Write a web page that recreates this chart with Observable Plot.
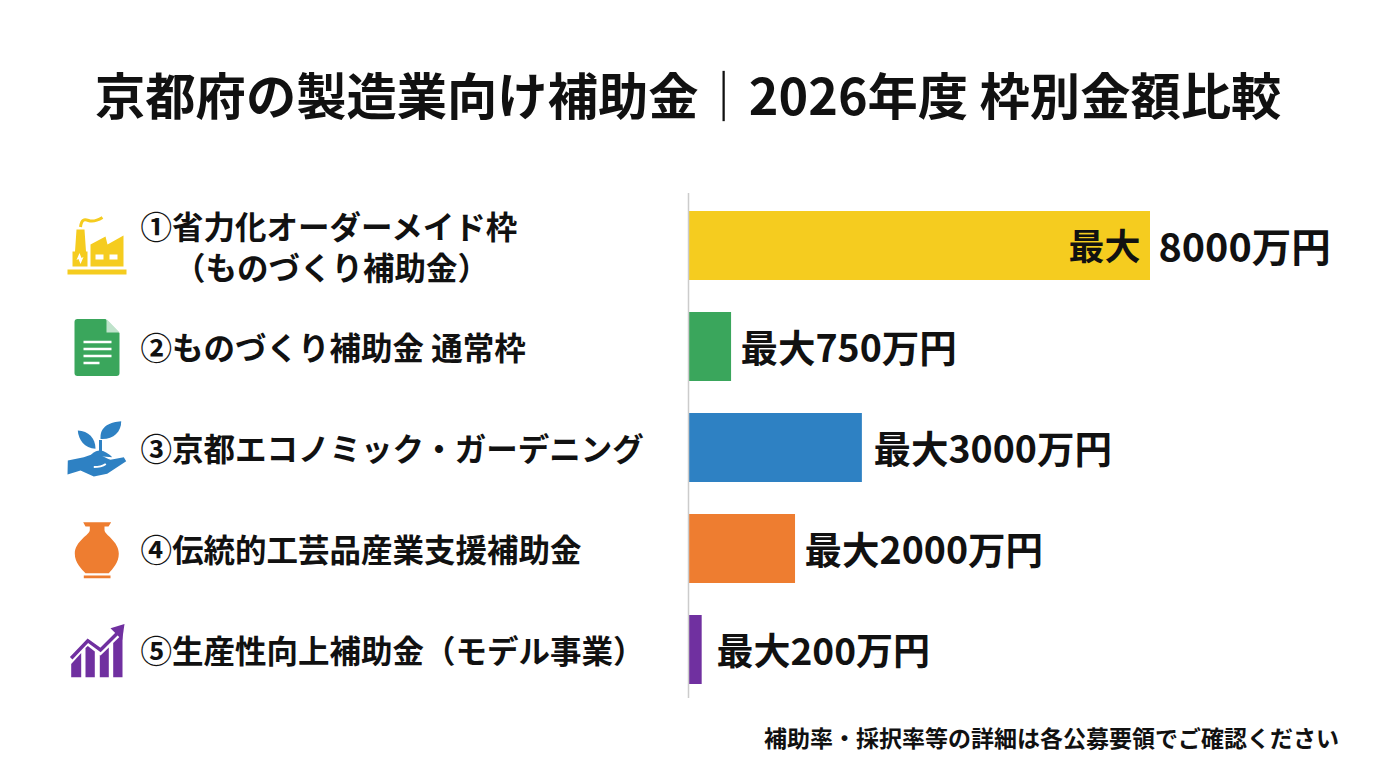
<!doctype html>
<html lang="ja"><head><meta charset="utf-8">
<script src="https://cdn.jsdelivr.net/npm/d3@7"></script>
<script src="https://cdn.jsdelivr.net/npm/@observablehq/plot@0.6"></script>
<style>
html,body{margin:0;padding:0;background:#fff;width:1376px;height:768px;overflow:hidden}
body{font-family:"Noto Sans CJK JP",sans-serif;color:#111}
#title{height:160px;box-sizing:border-box;padding-top:58px;padding-left:95px;font-size:50.3px;font-weight:700;line-height:70px;white-space:nowrap}
#chart svg{display:block}
#note{position:absolute;top:721px;right:37px;font-size:23px;font-weight:700;line-height:32px;white-space:nowrap}
</style></head><body>
<div id="title">京都府の製造業向け補助金｜2026年度 枠別金額比較</div>
<div id="chart"></div>
<div id="note">補助率・採択率等の詳細は各公募要領でご確認ください</div>
<script>
const names = ["①省力化オーダーメイド枠\n\u3000\u200a（ものづくり補助金）","②ものづくり補助金 通常枠","③京都エコノミック・ガーデニング","④伝統的工芸品産業支援補助金","⑤生産性向上補助金（モデル事業）"];
const drawnLength = [8000,730,3000,1840,220];
const labelStart = [8139,885,3193,1996,469];
const valueLabels = ["8000万円","最大750万円","最大3000万円","最大2000万円","最大200万円"];
const valueSizes = [39.5,37.5,37.5,37.5,37];
const colors = ["#f5cc1f","#3aa65c","#2e81c3","#ee7d30","#7030a0"];
const icons = [
`<g fill="#f5cc1f"><path d="M5 57.5h59v5H5z"/><path d="M14 17.5h8l1.5 22H25v15H10v-15h2.5z"/><path d="M28 32.5l15-8 2 8 16-9v31H28z"/></g>
 <path d="M18 15c1-8 4-8 8-6.5s9 0 14-3" fill="none" stroke="#f5cc1f" stroke-width="3"/>
 <path d="M33 42.5h8v5h-8zM47 42.5h8v5h-8z" fill="#fff"/><path d="M17 41l2 5 2-1-3 7-2-5-2 1z" fill="#fff"/>`,
`<path d="M15 6h28l14 14v40a3 3 0 0 1-3 3H15a3 3 0 0 1-3-3V9a3 3 0 0 1 3-3z" fill="#3aa65c"/><path d="M44 6l13 13.500H44z" fill="#bfe3cb"/><path d="M21 29h28M21 36h28M21 43h28M21 50h16" stroke="#fff" stroke-width="2.400"/>`,
`<g fill="#2e81c3"><path d="M5.300 46.500l16-3.300 10-3.400c6 0 11 4 16.700 6l13.300-2.600 2.400 4-19 12.600-13.400 2.700-13.300-6-13 4z"/><path d="M28 41.500c3-4 7-5 10-5s8 3 11.700 6.700z"/><path d="M36.500 37V26l3 0V37z"/>
 <path d="M38 23C38 12 48 8 58.700 7.200 59 18 50 26 38 25z"/><path d="M33 34.800C22 34 16 26 15.300 16.500 26 17 33 24 33 34.800z"/></g>
 <path d="M31.300 53c5 0 9-1 12-3" fill="none" stroke="#fff" stroke-width="2"/>`,
`<path d="M20.700 7.200H48.700L46 11.500H42V15C42 20 56.300 26 56.300 38.800 56.300 48 50 54 46.300 58.200H23C19 54 12.300 48 12.300 38.800 12.300 26 27.300 20 27.300 15V11.500H23Z" fill="#ee7d30"/><path d="M21.300 60.500H48V63.200H21.300Z" fill="#ee7d30"/>`,
`<g fill="#7030a0"><path d="M8.700 61.300V48L18.700 37V61.300Z"/><path d="M23 61.300V32L25.300 30 32.300 35.500V61.300Z"/><path d="M37.300 61.300V39L38 39.500 46.300 31.500V61.300Z"/><path d="M50.700 61.300V27L60 18V61.300Z"/><path d="M62 8L48 12.300 59.700 24Z"/></g>
 <path d="M8.700 42.300L25.300 24.700 38 34 56.300 15.700" fill="none" stroke="#7030a0" stroke-width="3.500"/>`
];
const iconHref = s => "data:image/svg+xml;utf8," + encodeURIComponent(`<svg xmlns="http://www.w3.org/2000/svg" viewBox="0 0 68 68">${s}</svg>`);
const rows = names.map((name,i)=>({name,len:drawnLength[i],at:labelStart[i],label:valueLabels[i],size:valueSizes[i],color:colors[i],icon:iconHref(icons[i])}));
const textFont = '"Noto Sans CJK JP",sans-serif';
const plot = Plot.plot({
  width:1376, height:555,
  marginLeft:689, marginRight:226, marginTop:34, marginBottom:15,
  style:{background:"#fff",fontFamily:textFont},
  x:{domain:[0,8000],axis:null},
  y:{domain:names,axis:null,paddingInner:0.32,paddingOuter:0.16},
  marks:[
    Plot.barX(rows,{x:"len",y:"name",fill:"color"}),
    Plot.ruleX([0],{stroke:"#cccccc",strokeWidth:1.5,dx:-1,insetBottom:2,insetTop:-1}),
    Plot.text(rows,{y:"name",text:"name",frameAnchor:"left",textAnchor:"start",dx:-549,fontSize:31.5,fontWeight:700,fill:"#111",lineHeight:1.32}),
    Plot.image(rows,{y:"name",src:"icon",frameAnchor:"left",dx:-593,width:68,height:68}),
    Plot.text(rows,{x:"at",y:"name",text:"label",textAnchor:"start",dy:3,fontSize:"size",fontWeight:700,fill:"#111"}),
    Plot.text(rows.slice(0,1),{x:"len",y:"name",text:()=>"最大",textAnchor:"end",dx:-10,dy:2,fontSize:36,fontWeight:700,fill:"#111"})
  ]
});
document.getElementById("chart").append(plot);
</script></body></html>
